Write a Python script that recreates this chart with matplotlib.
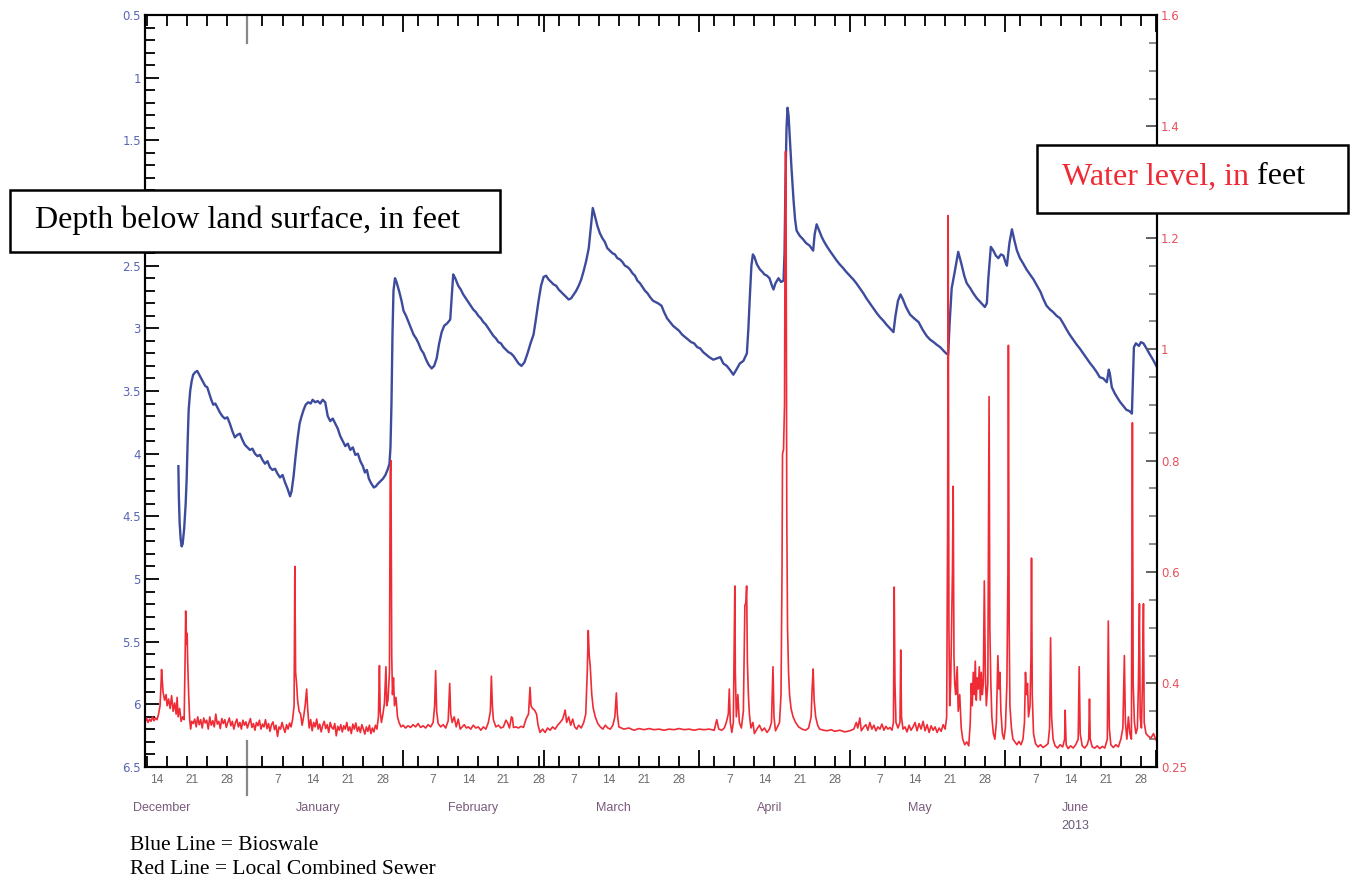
import numpy as np
import pandas as pd
import matplotlib
matplotlib.use('Agg')
import matplotlib.pyplot as plt
import matplotlib.dates as mdates
import matplotlib.transforms as mtransforms
from matplotlib.patches import Rectangle
from matplotlib.text import Annotation
from matplotlib.ticker import FixedLocator, MultipleLocator, FuncFormatter, NullFormatter

# time axis: days after 2012-12-14 00:00
START = np.datetime64('2012-12-14T00:00')
x_range = [-2.4, 199.2]

# Bioswale, depth below land surface (ft), left axis
blue_day = [
    4.25, 4.35, 4.5, 4.7, 4.9, 5.1, 5.4, 5.7, 5.9, 6.1, 6.3, 6.6, 6.9, 7.2, 7.6, 8.0, 8.4, 8.8, 9.2, 9.6,
    10.0, 10.4, 10.8, 11.2, 11.6, 12.0, 12.5, 13.0, 13.5, 14.0, 14.5, 15.0, 15.5, 16.0, 16.5, 17.0, 17.5, 18.0,
    18.5, 19.0, 19.5, 20.0, 20.5, 21.0, 21.5, 22.0, 22.5, 23.0, 23.5, 24.0, 24.5, 25.0, 25.5, 26.0, 26.5, 26.8,
    27.2, 27.6, 28.0, 28.4, 28.8, 29.2, 29.6, 30.1, 30.6, 31.0, 31.5, 32.0, 32.5, 33.0, 33.5, 34.0, 34.5, 35.0,
    35.5, 36.0, 36.5, 37.0, 37.5, 38.0, 38.5, 39.0, 39.5, 40.0, 40.5, 41.0, 41.4, 41.8, 42.2, 42.7, 43.2, 43.6,
    44.0, 44.5, 45.0, 45.5, 46.0, 46.3, 46.5, 46.7, 46.9, 47.1, 47.4, 47.7,
    48.2, 48.7, 49.1, 49.6, 50.1, 50.6, 51.1, 51.6, 52.1, 52.6, 53.1, 53.6, 54.1, 54.7, 55.2, 55.7, 56.2, 56.7,
    57.2, 57.8, 58.4, 58.7, 59.0, 59.4, 60.0, 60.5, 61.0, 61.5, 62.0, 62.5, 63.0, 63.5, 64.0, 64.5, 65.0, 65.5,
    66.0, 66.5, 67.0, 67.5, 68.0, 68.5, 69.0, 69.5, 70.0, 70.5, 71.0, 71.5, 72.0, 72.6, 73.2, 73.8, 74.4, 75.0,
    75.5, 76.0, 76.5, 77.0, 77.5, 78.0, 78.5, 79.0, 79.5, 80.0, 80.5, 81.0, 81.5, 82.0, 82.5, 83.0, 83.5, 84.0,
    84.5, 85.0, 85.5, 86.0, 86.4, 86.8, 87.2, 87.7, 88.2, 88.7, 89.2, 89.7, 90.2, 90.7, 91.2, 91.7, 92.2, 92.7,
    93.2, 93.7, 94.2, 94.7, 95.2, 95.7, 96.2, 96.7, 97.2, 97.7, 98.2, 98.8, 99.3, 99.8, 100.5, 101.0, 101.6,
    102.2, 102.8, 103.4, 104.0, 104.6, 105.2, 105.8, 106.4, 107.0, 107.6, 108.2, 108.8, 109.4, 110.0, 110.8,
    111.5, 112.2, 112.8, 113.5, 114.1, 114.8, 115.4, 116.1, 116.8, 117.5, 117.8, 118.1, 118.4, 118.7, 119.0,
    119.5, 120.1, 120.6, 121.0, 121.5, 122.0, 122.5, 122.8, 123.2, 123.8, 124.3, 124.8, 125.0, 125.2, 125.4,
    125.6, 125.8, 126.1, 126.4, 126.8, 127.1, 127.4, 128.0, 128.7, 129.3, 130.0, 130.7, 131.0, 131.4, 131.9,
    132.4, 132.9, 133.5, 134.0, 134.7, 135.4, 136.0, 136.7, 137.3, 138.0, 138.7, 139.3, 140.0, 140.7, 141.3,
    142.0, 142.7, 143.4, 144.0, 144.7, 145.3, 146.0, 146.7, 147.1, 147.6, 148.1, 148.6, 149.2, 150.0, 150.8,
    151.7, 152.5, 153.3, 154.0, 154.7, 155.3, 156.0, 156.7, 157.2, 157.6, 157.9, 158.3, 158.9, 159.6, 160.2,
    160.8, 161.3, 162.0, 162.6, 163.3, 164.0, 164.9, 165.3, 165.6, 166.1, 166.6, 167.1, 167.6, 168.1, 168.6,
    169.0, 169.3, 169.8, 170.3, 170.8, 171.3, 171.9, 172.5, 173.2, 173.9, 174.6, 175.3, 176.0, 176.6, 177.2,
    177.9, 178.5, 179.2, 179.9, 180.5, 181.2, 181.8, 182.5, 183.2, 183.8, 184.5, 185.2, 185.9, 186.5, 187.2,
    187.8, 188.5, 189.2, 189.6, 189.8, 190.2, 190.8, 191.4, 191.9, 192.5, 193.1, 193.7, 194.2, 194.4, 194.6,
    195.0, 195.6, 196.0, 196.5, 197.1, 197.8, 198.4, 199.2,
]
blue_depth = [
    4.10, 4.35, 4.55, 4.68, 4.74, 4.72, 4.60, 4.40, 4.20, 3.90, 3.65, 3.50, 3.42, 3.37, 3.35, 3.34, 3.37, 3.40, 3.43, 3.46,
    3.47, 3.52, 3.57, 3.61, 3.60, 3.63, 3.67, 3.70, 3.72, 3.71, 3.76, 3.82, 3.87, 3.85, 3.84, 3.89, 3.93, 3.95,
    3.97, 3.96, 4.00, 4.02, 4.01, 4.05, 4.08, 4.06, 4.11, 4.13, 4.12, 4.16, 4.19, 4.17, 4.23, 4.28, 4.34, 4.30,
    4.18, 4.02, 3.88, 3.76, 3.70, 3.65, 3.61, 3.59, 3.60, 3.57, 3.59, 3.58, 3.60, 3.57, 3.59, 3.70, 3.74, 3.72,
    3.76, 3.80, 3.86, 3.90, 3.94, 3.92, 3.97, 3.95, 4.01, 4.00, 4.06, 4.10, 4.15, 4.13, 4.20, 4.24, 4.27, 4.26,
    4.24, 4.22, 4.20, 4.17, 4.12, 4.08, 3.95, 3.60, 3.05, 2.70, 2.60, 2.63,
    2.70, 2.78, 2.86, 2.90, 2.95, 3.00, 3.05, 3.08, 3.12, 3.17, 3.20, 3.25, 3.29, 3.32, 3.30, 3.24, 3.12, 3.03,
    2.98, 2.96, 2.93, 2.75, 2.57, 2.60, 2.66, 2.69, 2.73, 2.76, 2.79, 2.82, 2.85, 2.87, 2.90, 2.92, 2.95, 2.97,
    3.00, 3.03, 3.06, 3.08, 3.11, 3.12, 3.15, 3.17, 3.19, 3.20, 3.22, 3.25, 3.28, 3.30, 3.27, 3.20, 3.12, 3.05,
    2.92, 2.78, 2.66, 2.59, 2.58, 2.61, 2.63, 2.65, 2.66, 2.69, 2.71, 2.73, 2.75, 2.77, 2.76, 2.73, 2.70, 2.66,
    2.61, 2.54, 2.46, 2.36, 2.20, 2.04, 2.10, 2.18, 2.24, 2.28, 2.31, 2.36, 2.38, 2.40, 2.41, 2.44, 2.45, 2.47,
    2.50, 2.51, 2.53, 2.56, 2.58, 2.62, 2.64, 2.67, 2.70, 2.72, 2.75, 2.78, 2.79, 2.80, 2.82, 2.87, 2.92,
    2.95, 2.98, 3.00, 3.02, 3.05, 3.07, 3.09, 3.11, 3.12, 3.15, 3.16, 3.19, 3.21, 3.23, 3.25,
    3.24, 3.23, 3.28, 3.30, 3.33, 3.37, 3.33, 3.28, 3.26, 3.20, 3.00, 2.74, 2.50, 2.41, 2.43,
    2.49, 2.53, 2.55, 2.57, 2.58, 2.60, 2.66, 2.69, 2.64, 2.60, 2.63, 2.62, 2.40, 1.80, 1.40,
    1.24, 1.30, 1.52, 1.73, 1.98, 2.13, 2.22, 2.26, 2.29, 2.32, 2.34, 2.38, 2.25, 2.17, 2.22,
    2.27, 2.31, 2.35, 2.38, 2.42, 2.46, 2.49, 2.52, 2.55, 2.58, 2.61, 2.64, 2.68, 2.72, 2.76,
    2.80, 2.84, 2.88, 2.91, 2.94, 2.97, 3.00, 3.03, 2.90, 2.78, 2.73, 2.77, 2.83, 2.89, 2.92,
    2.95, 3.01, 3.06, 3.09, 3.11, 3.13, 3.15, 3.18, 3.20, 3.21, 2.95, 2.68, 2.55, 2.39, 2.48,
    2.58, 2.64, 2.68, 2.72, 2.76, 2.79, 2.83, 2.80, 2.60, 2.35, 2.38, 2.42, 2.44, 2.41, 2.42,
    2.47, 2.50, 2.32, 2.21, 2.30, 2.38, 2.44, 2.48, 2.53, 2.57, 2.61, 2.66, 2.71, 2.77, 2.82,
    2.85, 2.87, 2.90, 2.92, 2.96, 3.01, 3.05, 3.09, 3.13, 3.16, 3.20, 3.24, 3.28, 3.31, 3.35,
    3.39, 3.40, 3.43, 3.33, 3.36, 3.47, 3.52, 3.56, 3.59, 3.62, 3.65, 3.66, 3.68, 3.40, 3.15,
    3.12, 3.14, 3.11, 3.12, 3.16, 3.21, 3.25, 3.31,
]

# Local combined sewer, water level (ft), right axis
red_day = [
    -2.4, -2.1, -1.8, -1.5, -1.2, -0.9, -0.6, -0.3, 0.0, 0.3, 0.6, 0.8, 0.9, 1.0, 1.2, 1.5, 1.8, 2.0, 2.3, 2.6,
    2.9, 3.2, 3.5, 3.8, 4.0, 4.2, 4.5, 4.8, 5.1, 5.4, 5.6, 5.7, 5.8, 5.9, 6.0, 6.1, 6.3, 6.5, 6.7, 6.9,
    7.2, 7.5, 7.8, 8.1, 8.4, 8.7, 9.0, 9.3, 9.6, 9.9, 10.2, 10.5, 10.8, 11.1, 11.4, 11.7, 12.0, 12.3, 12.6, 12.9,
    13.2, 13.5, 13.8, 14.1, 14.4, 14.7, 15.0, 15.3, 15.6, 15.9, 16.2, 16.5, 16.8, 17.1, 17.4, 17.7, 18.0, 18.3,
    18.6, 18.9, 19.2, 19.5, 19.8, 20.1, 20.4, 20.7, 21.0, 21.3, 21.6, 21.9, 22.2, 22.5, 22.8, 23.1, 23.4, 23.7,
    24.0, 24.3, 24.6, 24.9, 25.2, 25.5, 25.8, 26.1, 26.4, 26.7, 27.0,
    27.3, 27.45, 27.6, 27.8, 28.0, 28.3, 28.6, 28.9, 29.2, 29.5, 29.8, 30.0, 30.3, 30.6,
    30.9, 31.2, 31.5, 31.8, 32.1, 32.4, 32.7, 33.0, 33.3, 33.6, 33.9, 34.2, 34.5, 34.8, 35.1, 35.4, 35.7, 36.0,
    36.3, 36.6, 36.9, 37.2, 37.5, 37.8, 38.1, 38.4, 38.7, 39.0, 39.3, 39.6, 39.9, 40.2, 40.5, 40.8, 41.1, 41.4,
    41.7, 42.0, 42.3, 42.6, 42.9, 43.2, 43.5, 43.8,
    44.1, 44.3, 44.45, 44.7, 45.0, 45.3, 45.6, 45.75, 46.0, 46.3, 46.45, 46.6, 46.75, 46.9, 47.1, 47.3, 47.6,
    47.9, 48.2, 48.6,
    49.0, 49.5, 50.0, 50.5, 51.0, 51.5, 52.0, 52.5, 53.0, 53.5, 54.0, 54.5, 55.0, 55.3, 55.5, 55.7, 56.0, 56.5,
    57.0, 57.5, 58.0, 58.3, 58.5, 58.8, 59.2, 59.6, 60.0, 60.4, 60.8, 61.2, 61.6, 62.0, 62.5, 63.0, 63.5, 64.0,
    64.5, 65.0, 65.5, 66.0, 66.4, 66.6, 66.8, 67.0, 67.5, 68.0, 68.5, 69.0, 69.5, 69.8, 70.2, 70.6, 70.8, 71.0,
    71.5, 72.0, 72.5, 73.0, 73.5, 74.0, 74.3, 74.5, 74.8, 75.2, 75.6, 75.9, 76.3, 76.8, 77.3, 77.8, 78.3, 78.8,
    79.3, 79.8, 80.3, 80.8, 81.1, 81.3, 81.6, 82.0, 82.4, 82.8, 83.2, 83.6, 84.0, 84.5, 85.0, 85.4, 85.7, 85.9,
    86.1, 86.3, 86.6, 86.9, 87.3, 87.8, 88.3, 88.8, 89.3, 89.8, 90.3, 90.8, 91.2, 91.5, 91.7, 92.0,
    93.0, 94.0, 95.0, 96.0, 97.0, 98.0, 99.0, 100.0, 101.0, 102.0, 103.0, 104.0, 105.0, 106.0, 107.0, 108.0,
    109.0, 110.0, 111.0, 111.5, 111.9, 112.5, 113.0, 113.4,
    113.8, 114.0, 114.2, 114.5, 114.8, 115.0, 115.1, 115.2, 115.4, 115.7, 116.0, 116.4, 116.8, 117.1, 117.3,
    117.45, 117.6, 117.8, 118.0, 118.3, 118.7, 119.0, 119.5, 120.0, 120.5, 121.0, 121.5, 122.0, 122.4, 122.7,
    122.9, 123.2, 123.6, 124.0, 124.3, 124.5, 124.6, 124.8, 125.0, 125.1, 125.2, 125.3, 125.45, 125.6, 125.8,
    126.0, 126.3, 126.7, 127.2, 127.8, 128.5, 129.2, 129.8, 130.3, 130.5, 130.7, 130.9, 131.2, 131.6, 132.0,
    132.8, 133.5, 134.3, 135.0, 136.0, 137.0, 138.0, 138.8, 139.3, 139.6, 140.0, 140.3, 140.8,
    141.2, 141.6, 142.0, 142.4, 142.8, 143.2, 143.6, 144.0, 144.4, 144.8, 145.2, 145.6, 146.0, 146.4, 146.7,
    146.85, 147.0, 147.2, 147.6, 148.0, 148.15, 148.3, 148.6, 149.0, 149.4, 149.8, 150.2, 150.6, 151.0, 151.4,
    151.8, 152.2, 152.6, 153.0, 153.4, 153.8, 154.2, 154.6, 155.0, 155.4, 155.8, 156.2, 156.6, 157.0, 157.3,
    157.5, 157.6, 157.75, 157.9, 158.1, 158.45, 158.6, 158.75, 158.9, 159.1, 159.4, 159.6, 159.9, 160.2, 160.5,
    160.9, 161.3, 161.7,
    162.0, 162.2, 162.4, 162.6, 162.8, 163.0, 163.2, 163.4, 163.6, 163.8, 164.0, 164.2, 164.4, 164.6, 164.8,
    165.0, 165.2, 165.5, 165.65, 165.75, 165.9, 166.1, 166.3, 166.6, 166.9, 167.2, 167.5, 167.7, 167.9, 168.1,
    168.4, 168.7, 169.0, 169.3, 169.5, 169.6, 169.75, 169.9, 170.2, 170.5, 170.9, 171.3, 171.7, 172.1, 172.5,
    172.8, 173.0, 173.2, 173.4, 173.6, 173.9, 174.1, 174.2, 174.35, 174.6, 175.0, 175.5, 176.0, 176.5, 177.0,
    177.5, 177.8, 178.0, 178.2, 178.5, 178.9, 179.4, 179.9, 180.4, 180.8, 180.9, 181.1, 181.5, 182.0, 182.5,
    183.0, 183.5, 183.7, 183.9, 184.3, 184.8, 185.3, 185.6, 185.75, 185.9, 186.3, 186.8, 187.3, 187.8, 188.3,
    188.8, 189.3, 189.5, 189.7, 190.0, 190.5, 191.0, 191.5, 192.0, 192.4, 192.7, 192.9, 193.2, 193.5, 193.8,
    194.1, 194.3, 194.45, 194.7, 195.0, 195.3, 195.5, 195.7, 195.85, 196.1, 196.3, 196.5, 196.65, 197.0, 197.5,
    198.0, 198.5, 199.0, 199.2,
]
red_level = [
    0.330, 0.338, 0.330, 0.336, 0.332, 0.340, 0.333, 0.338, 0.335, 0.345, 0.360, 0.400, 0.425, 0.410, 0.385, 0.370, 0.380, 0.360, 0.372, 0.355,
    0.378, 0.350, 0.365, 0.345, 0.375, 0.340, 0.355, 0.332, 0.340, 0.335, 0.450, 0.530, 0.500, 0.470, 0.490, 0.440, 0.380, 0.335, 0.318, 0.332,
    0.328, 0.336, 0.322, 0.340, 0.326, 0.335, 0.320, 0.338, 0.329, 0.334, 0.318, 0.340, 0.325, 0.333, 0.322, 0.345, 0.327, 0.332, 0.319, 0.337,
    0.328, 0.335, 0.321, 0.330, 0.338, 0.324, 0.332, 0.318, 0.329, 0.336, 0.322, 0.330, 0.318, 0.334, 0.325, 0.331, 0.320, 0.329,
    0.337, 0.321, 0.328, 0.316, 0.330, 0.324, 0.334, 0.318, 0.327, 0.322, 0.335, 0.319, 0.328, 0.314, 0.326, 0.331, 0.317, 0.325,
    0.305, 0.322, 0.318, 0.330, 0.320, 0.312, 0.326, 0.318, 0.329, 0.322, 0.335,
    0.360, 0.610, 0.420, 0.400, 0.370, 0.350, 0.345, 0.325, 0.340, 0.360, 0.390, 0.355, 0.320, 0.335,
    0.315, 0.330, 0.322, 0.336, 0.318, 0.327, 0.313, 0.325, 0.332, 0.319, 0.326, 0.312, 0.330, 0.321, 0.318, 0.328, 0.306, 0.323,
    0.316, 0.326, 0.313, 0.324, 0.318, 0.330, 0.315, 0.322, 0.310, 0.327, 0.318, 0.329, 0.314, 0.322, 0.312, 0.326, 0.318, 0.309,
    0.322, 0.314, 0.325, 0.310, 0.320, 0.313, 0.325, 0.318,
    0.340, 0.432, 0.350, 0.330, 0.345, 0.365, 0.430, 0.360, 0.370, 0.420, 0.780, 0.800, 0.450, 0.380, 0.410, 0.360, 0.375,
    0.340, 0.330, 0.322,
    0.325, 0.320, 0.324, 0.321, 0.326, 0.322, 0.328, 0.321, 0.324, 0.320, 0.326, 0.322, 0.330, 0.360, 0.423, 0.350, 0.328, 0.322,
    0.326, 0.320, 0.333, 0.400, 0.345, 0.330, 0.340, 0.322, 0.336, 0.318, 0.322, 0.326, 0.320, 0.322, 0.318, 0.325, 0.320, 0.322,
    0.316, 0.322, 0.318, 0.330, 0.350, 0.413, 0.360, 0.335, 0.322, 0.325, 0.320, 0.322, 0.334, 0.330, 0.320, 0.340, 0.338, 0.321,
    0.322, 0.320, 0.323, 0.321, 0.336, 0.345, 0.393, 0.360, 0.355, 0.352, 0.345, 0.325, 0.312, 0.318, 0.312, 0.320, 0.316, 0.322,
    0.318, 0.325, 0.330, 0.336, 0.345, 0.352, 0.330, 0.340, 0.325, 0.336, 0.322, 0.318, 0.325, 0.320, 0.330, 0.345, 0.420, 0.495,
    0.450, 0.430, 0.380, 0.355, 0.340, 0.328, 0.322, 0.318, 0.325, 0.320, 0.318, 0.325, 0.340, 0.383, 0.345, 0.322,
    0.318, 0.320, 0.316, 0.319, 0.317, 0.319, 0.317, 0.318, 0.316, 0.318, 0.317, 0.319, 0.317, 0.318, 0.316, 0.318,
    0.317, 0.318, 0.316, 0.335, 0.318, 0.316, 0.320, 0.330,
    0.345, 0.390, 0.330, 0.312, 0.330, 0.500, 0.575, 0.420, 0.340, 0.380, 0.330, 0.320, 0.350, 0.540, 0.545,
    0.575, 0.440, 0.380, 0.345, 0.320, 0.330, 0.310, 0.318, 0.325, 0.315, 0.320, 0.312, 0.318, 0.330, 0.430,
    0.340, 0.315, 0.322, 0.330, 0.380, 0.600, 0.812, 0.820, 0.900, 1.200, 1.355, 1.300, 0.700, 0.500, 0.420,
    0.380, 0.355, 0.340, 0.330, 0.322, 0.318, 0.316, 0.320, 0.340, 0.390, 0.426, 0.370, 0.340, 0.325, 0.318,
    0.316, 0.315, 0.317, 0.314, 0.316, 0.313, 0.315, 0.318, 0.330, 0.320, 0.338, 0.315, 0.322,
    0.326, 0.316, 0.330, 0.318, 0.325, 0.315, 0.322, 0.318, 0.327, 0.316, 0.323, 0.318, 0.321, 0.316, 0.330,
    0.573, 0.400, 0.330, 0.320, 0.330, 0.460, 0.340, 0.318, 0.322, 0.313, 0.325, 0.316, 0.322, 0.330, 0.315,
    0.328, 0.318, 0.332, 0.315, 0.326, 0.312, 0.324, 0.316, 0.322, 0.312, 0.320, 0.314, 0.326, 0.318, 0.340,
    0.700, 1.240, 0.500, 0.360, 0.400, 0.600, 0.754, 0.450, 0.400, 0.380, 0.430, 0.350, 0.380, 0.320, 0.300,
    0.290, 0.295, 0.288,
    0.330, 0.400, 0.360, 0.420, 0.380, 0.440, 0.370, 0.410, 0.390, 0.430, 0.370, 0.420, 0.380, 0.400, 0.584,
    0.420, 0.360, 0.400, 0.700, 0.915, 0.500, 0.400, 0.340, 0.310, 0.300, 0.330, 0.450, 0.390, 0.420, 0.350,
    0.310, 0.300, 0.320, 0.400, 0.600, 1.007, 0.500, 0.360, 0.320, 0.300, 0.295, 0.290, 0.296, 0.290, 0.300,
    0.330, 0.420, 0.380, 0.400, 0.340, 0.360, 0.450, 0.625, 0.380, 0.310, 0.292, 0.286, 0.290, 0.285, 0.288,
    0.292, 0.320, 0.482, 0.340, 0.300, 0.288, 0.284, 0.290, 0.286, 0.300, 0.352, 0.290, 0.283, 0.288, 0.284,
    0.290, 0.300, 0.430, 0.310, 0.288, 0.284, 0.290, 0.300, 0.372, 0.300, 0.286, 0.284, 0.288, 0.283, 0.287,
    0.284, 0.300, 0.512, 0.320, 0.290, 0.285, 0.290, 0.286, 0.300, 0.320, 0.450, 0.330, 0.300, 0.340, 0.310,
    0.300, 0.868, 0.400, 0.330, 0.310, 0.320, 0.400, 0.543, 0.340, 0.320, 0.400, 0.543, 0.330, 0.310, 0.305,
    0.302, 0.310, 0.298, 0.300,
]

# axis labels
left_hidden_label = 2.0   # covered by the "Depth below land surface" box
day_label_days = [7, 14, 21, 28]
month_names = ['December', 'January', 'February', 'March', 'April', 'May', 'June']
month_mid = ['2012-12-15', '2013-01-15', '2013-02-15', '2013-03-15', '2013-04-15', '2013-05-15', '2013-06-15']

assert len(blue_day) == len(blue_depth)
assert len(red_day) == len(red_level)


def to_dates(days):
    mins = np.round(np.asarray(days, dtype=float) * 1440).astype('int64')
    return START + mins.astype('timedelta64[m]')


W, H = 1356, 884
fig = plt.figure(figsize=(W / 100, H / 100), dpi=100)
ax = fig.add_axes([145 / W, 1 - 767 / H, (1157 - 145) / W, (767 - 15) / H])
ax2 = ax.twinx()

blue_c = '#3d4b9c'
red_c = '#ef2b36'
ax.plot(to_dates(blue_day), blue_depth, color=blue_c, lw=1.7, zorder=3)
ax2.plot(to_dates(red_day), red_level, color=red_c, lw=1.2, zorder=2)

xlim = to_dates(x_range)
ax.set_xlim(xlim[0], xlim[1])
ax.set_ylim(6.5, 0.5)
ax2.set_ylim(0.25, 1.6)

for a in (ax, ax2):
    for s in a.spines.values():
        s.set_linewidth(1.5)
        s.set_color('black')

# left axis
ax.yaxis.set_major_locator(MultipleLocator(0.5))
ax.yaxis.set_minor_locator(MultipleLocator(0.1))
ax.yaxis.set_major_formatter(FuncFormatter(
    lambda v, p: '' if abs(v - left_hidden_label) < 1e-9 else f'{v:g}'))
ax.tick_params(axis='y', which='major', direction='in', length=10, width=1.3,
               labelsize=8.5, labelcolor='#5865b5', pad=3)
ax.tick_params(axis='y', which='minor', direction='in', length=7, width=1.3)

# right axis
ax2.yaxis.set_major_locator(FixedLocator([0.25, 0.4, 0.6, 0.8, 1.0, 1.2, 1.4, 1.6]))
ax2.yaxis.set_minor_locator(MultipleLocator(0.05))
ax2.yaxis.set_major_formatter(FuncFormatter(lambda v, p: f'{v:g}'))
ax2.tick_params(axis='y', which='major', direction='in', length=8, width=1.3, color='#555',
                labelsize=8.5, labelcolor='#e8505c', pad=3)
ax2.tick_params(axis='y', which='minor', direction='in', length=6, width=1.2, color='#777')

# x axis ticks: month starts (long) and every 4th day
ax.xaxis.set_major_locator(mdates.MonthLocator())
ax.xaxis.set_minor_locator(mdates.DayLocator(bymonthday=[4, 8, 12, 16, 20, 24, 28]))
ax.xaxis.set_major_formatter(NullFormatter())
ax.xaxis.set_minor_formatter(NullFormatter())
ax.tick_params(axis='x', which='major', direction='in', length=12, width=1.3, top=True, bottom=True)
ax.tick_params(axis='x', which='minor', direction='in', length=8, width=1.3, top=True, bottom=True)

# year boundary marker
jan1 = np.datetime64('2013-01-01')
ax.axvline(jan1, ymin=-0.037, ymax=0.035, color='#888888', lw=1.6, clip_on=False, zorder=4)
ax.axvline(jan1, ymin=0.963, ymax=1.0, color='#888888', lw=1.6, clip_on=False, zorder=4)

trans = mtransforms.blended_transform_factory(ax.transData, ax.transAxes)
for d in pd.date_range('2012-12-01', '2013-07-01'):
    if d.day in day_label_days and xlim[0] <= np.datetime64(d) <= xlim[1]:
        ax.text(np.datetime64(d), -0.009, str(d.day), transform=trans, ha='center', va='top',
                fontsize=8.5, color='#6a6a6a', family='Liberation Sans')
for name, mid in zip(month_names, month_mid):
    ax.text(np.datetime64(mid), -0.055, name, transform=trans, ha='center', va='center',
            fontsize=9, color='#7a5a7c', family='Liberation Sans')
ax.text(np.datetime64(month_mid[-1]), -0.079, '2013', transform=trans, ha='center', va='center',
        fontsize=9, color='#6a5a7a', family='Liberation Sans')

# annotation boxes
fig.add_artist(Rectangle((10 / W, 1 - 252 / H), 490 / W, 62 / H, transform=fig.transFigure,
                         facecolor='white', edgecolor='black', lw=1.8, zorder=5))
fig.text(35 / W, 1 - 220 / H, 'Depth below land surface, in feet', fontsize=23,
         family='Liberation Serif', va='center', ha='left', zorder=6)

fig.add_artist(Rectangle((1037 / W, 1 - 213 / H), 311 / W, 68 / H, transform=fig.transFigure,
                         facecolor='white', edgecolor='black', lw=1.8, zorder=5))
t1 = fig.text(1062 / W, 1 - 177 / H, 'Water level, in', fontsize=23, color='#ee2a35',
              family='Liberation Serif', va='center', ha='left', zorder=6)
feet = Annotation(' feet', xy=(1, 0), xycoords=t1, va='bottom', ha='left', fontsize=23,
                  family='Liberation Serif', color='black', annotation_clip=False)
feet.set_zorder(6)
fig.add_artist(feet)

# legend notes
fig.text(130 / W, 1 - 845 / H, 'Blue Line = Bioswale', fontsize=15.5,
         family='Liberation Serif', va='center', ha='left')
fig.text(130 / W, 1 - 870 / H, 'Red Line = Local Combined Sewer', fontsize=15.5,
         family='Liberation Serif', va='center', ha='left')

fig.savefig('out.png', dpi=100, facecolor='white')
